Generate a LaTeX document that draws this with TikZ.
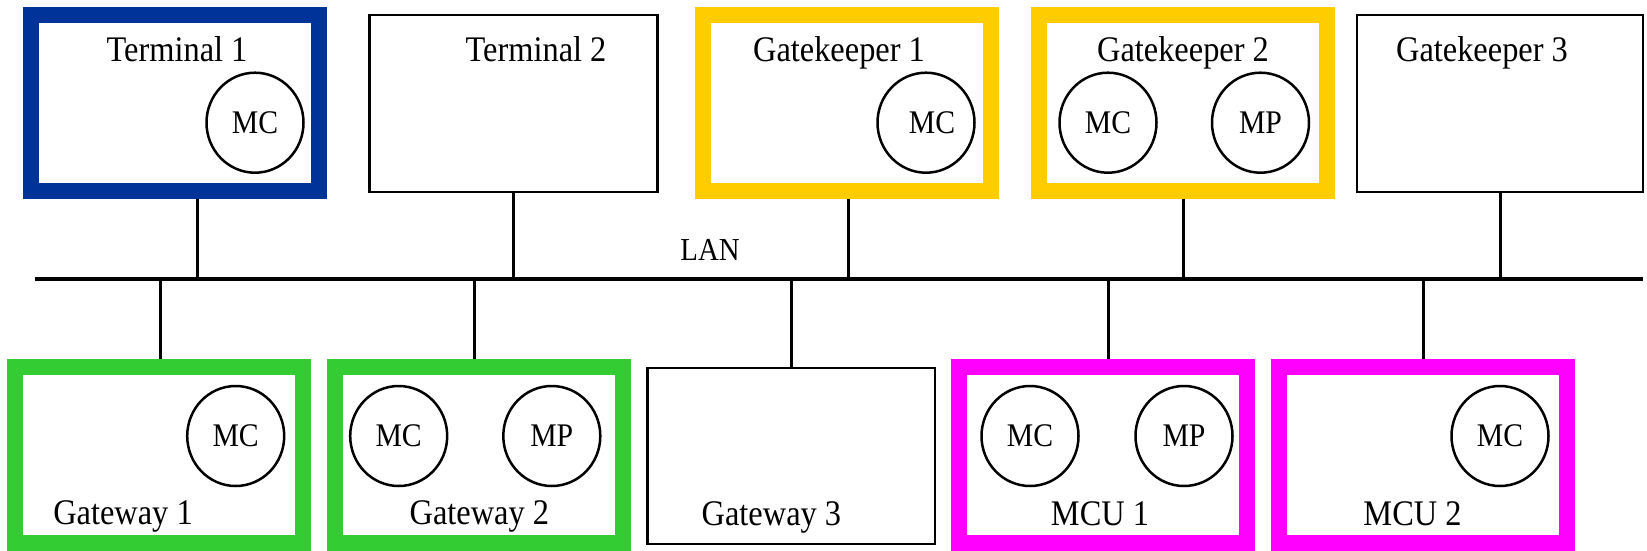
\documentclass[tikz,border=0pt]{standalone}
\usepackage{fontspec}
\setmainfont[FakeStretch=0.9]{Liberation Serif}
\usetikzlibrary{shapes.geometric}
\definecolor{tblue}{RGB}{0,51,153}
\definecolor{gkyellow}{RGB}{255,204,0}
\definecolor{gwgreen}{RGB}{51,204,51}
\definecolor{mcumag}{RGB}{255,0,255}
\tikzset{
  thickbox/.style={draw=#1, line width=16pt, minimum width=288pt, minimum height=176pt, inner sep=0pt},
  thinbox/.style={draw=black, line width=2.2pt, minimum width=288pt, minimum height=177pt, inner sep=0pt},
  unit/.style={ellipse, draw=black, line width=2.5pt, minimum width=97pt, minimum height=100pt, inner sep=0pt, font=\fontsize{33}{36}\selectfont},
  lbl/.style={anchor=base, inner sep=0pt, font=\fontsize{36}{40}\selectfont},
  conn/.style={line width=3pt},
  bus/.style={line width=4pt}
}
\begin{document}
\begin{tikzpicture}[x=1pt,y=-1pt]
\useasboundingbox (0,0) rectangle (1647,550);
% LAN bus
\coordinate (lanL) at (34.5,279.3);
\coordinate (lanR) at (1643,279.3);
% top boxes
\node[thickbox=tblue] (t1) at (174.8,102.7) {};
\node[thinbox] (t2) at (513.5,103.5) {};
\node[thickbox=gkyellow] (gk1) at (847.3,102.7) {};
\node[thickbox=gkyellow] (gk2) at (1183,102.7) {};
\node[thinbox, minimum width=286.4pt] (gk3) at (1500.1,103.5) {};
% bottom boxes
\node[thickbox=gwgreen] (gw1) at (159,454.5) {};
\node[thickbox=gwgreen] (gw2) at (479,454.5) {};
\node[thinbox, minimum width=287.5pt, minimum height=176.3pt] (gw3) at (791.25,455.9) {};
\node[thickbox=mcumag] (mcu1) at (1103.2,454.5) {};
\node[thickbox=mcumag] (mcu2) at (1423,454.5) {};
% labels
\node[lbl] (lt1) at (177,61) {Terminal 1};
\node[lbl] (lt2) at (536,61) {Terminal 2};
\node[lbl] (lgk1) at (839,61) {Gatekeeper 1};
\node[lbl] (lgk2) at (1183,61) {Gatekeeper 2};
\node[lbl] (lgk3) at (1482,61) {Gatekeeper 3};
\node[lbl] (lgw1) at (123,524) {Gateway 1};
\node[lbl] (lgw2) at (479.4,524) {Gateway 2};
\node[lbl] (lgw3) at (771.4,525) {Gateway 3};
\node[lbl] (lmcu1) at (1100,525) {MCU 1};
\node[lbl] (lmcu2) at (1412.5,525) {MCU 2};
\node[anchor=base, inner sep=0pt, font=\fontsize{32}{36}\selectfont] (lan) at (710,260) {LAN};
% units
\node[unit] (t1mc) at (255,122.7) {MC};
\node[unit] (gk1mc) at (926,122.7) {\hspace*{12pt}MC};
\node[unit] (gk2mc) at (1108,122.7) {MC};
\node[unit] (gk2mp) at (1260.5,122.7) {MP};
\node[unit] (gw1mc) at (235.7,436) {MC};
\node[unit] (gw2mc) at (398.7,436) {MC};
\node[unit] (gw2mp) at (551.8,436) {MP};
\node[unit] (mcu1mc) at (1030,436) {\raisebox{-6pt}{MC}};
\node[unit] (mcu1mp) at (1184,436) {\raisebox{-6pt}{MP}};
\node[unit] (mcu2mc) at (1500,436) {MC};
% connector points on the bus
\coordinate (ct1) at (197.8,279.3);
\coordinate (ct2) at (513.5,279.3);
\coordinate (cgk1) at (848.9,279.3);
\coordinate (cgk2) at (1183.7,279.3);
\coordinate (cgk3) at (1500.4,279.3);
\coordinate (cgw1) at (160,279.3);
\coordinate (cgw2) at (474.8,279.3);
\coordinate (cgw3) at (791,279.3);
\coordinate (cmcu1) at (1108,279.3);
\coordinate (cmcu2) at (1423.7,279.3);
% connectors
\draw[conn] (ct1 |- t1.south) -- (ct1);
\draw[conn] (ct2 |- t2.south) -- (ct2);
\draw[conn] (cgk1 |- gk1.south) -- (cgk1);
\draw[conn] (cgk2 |- gk2.south) -- (cgk2);
\draw[conn] (cgk3 |- gk3.south) -- (cgk3);
\draw[conn] (cgw1 |- gw1.north) -- (cgw1);
\draw[conn] (cgw2 |- gw2.north) -- (cgw2);
\draw[conn] (cgw3 |- gw3.north) -- (cgw3);
\draw[conn] (cmcu1 |- mcu1.north) -- (cmcu1);
\draw[conn] (cmcu2 |- mcu2.north) -- (cmcu2);
\draw[bus] (lanL) -- (lanR);
\end{tikzpicture}
\end{document}
